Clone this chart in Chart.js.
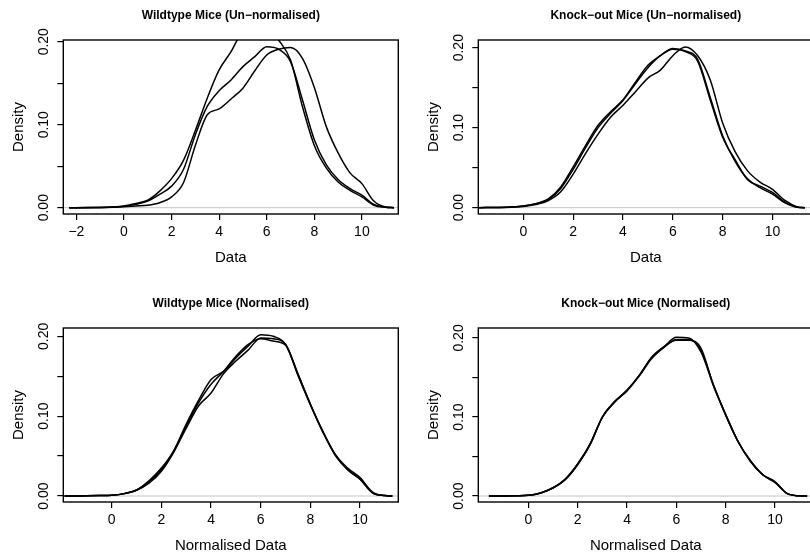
<!DOCTYPE html>
<html>
<head>
<meta charset="utf-8">
<script src="https://cdn.jsdelivr.net/npm/chart.js@4.4.1/dist/chart.umd.min.js"></script>
<style>
  html, body { margin: 0; padding: 0; background: #fff; }
  #wrap { position: relative; width: 810px; height: 556px; overflow: hidden; background: #fff; }
  #wrap canvas { position: absolute; }
</style>
</head>
<body>
<div id="wrap">
  <canvas id="wtRaw" width="405" height="278" style="left:0px;top:0px"></canvas>
  <canvas id="koRaw" width="405" height="278" style="left:415px;top:0px"></canvas>
  <canvas id="wtNorm" width="405" height="278" style="left:0px;top:288px"></canvas>
  <canvas id="koNorm" width="405" height="278" style="left:415px;top:288px"></canvas>
</div>
<script>
// Dichte-Kurven
const xsWtRaw = [-2.3, -1.5, -1, -0.5, 0, 0.5, 1, 1.5, 2, 2.5, 3, 3.5, 4, 4.5, 5, 5.5, 6, 6.5, 7, 7.5, 8, 8.5, 9, 9.5, 10, 10.5, 11, 11.35];
const wtRaw1 = [0, 0.0001, 0.0003, 0.0008, 0.0018, 0.004, 0.008, 0.016, 0.026, 0.046, 0.088, 0.122, 0.141, 0.154, 0.17, 0.182, 0.194, 0.191, 0.176, 0.13, 0.082, 0.052, 0.034, 0.023, 0.015, 0.004, 0.0005, 0];
const wtRaw2 = [0, 0.0001, 0.0003, 0.0008, 0.002, 0.005, 0.009, 0.02, 0.035, 0.057, 0.093, 0.132, 0.166, 0.188, 0.214, 0.224, 0.219, 0.202, 0.178, 0.122, 0.075, 0.048, 0.031, 0.021, 0.013, 0.003, 0.0005, 0];
const wtRaw3 = [0, 0, 0.0001, 0.0004, 0.001, 0.002, 0.003, 0.006, 0.013, 0.03, 0.075, 0.112, 0.119, 0.131, 0.144, 0.165, 0.184, 0.191, 0.193, 0.18, 0.145, 0.098, 0.066, 0.042, 0.029, 0.008, 0.0008, 0];

const xsKoRaw = [-2, -1.5, -1, -0.5, 0, 0.5, 1, 1.5, 2, 2.5, 3, 3.5, 4, 4.5, 5, 5.5, 6, 6.5, 7, 7.5, 8, 8.5, 9, 9.5, 10, 10.5, 11, 11.3];
const koRaw1 = [0, 0.0001, 0.0002, 0.0006, 0.0015, 0.004, 0.009, 0.02, 0.042, 0.068, 0.092, 0.113, 0.128, 0.145, 0.162, 0.172, 0.19, 0.201, 0.19, 0.16, 0.106, 0.07, 0.046, 0.032, 0.023, 0.009, 0.001, 0];
const koRaw2 = [0, 0.0001, 0.0003, 0.0008, 0.002, 0.005, 0.011, 0.026, 0.051, 0.078, 0.103, 0.12, 0.135, 0.157, 0.178, 0.19, 0.199, 0.195, 0.183, 0.135, 0.088, 0.06, 0.035, 0.027, 0.019, 0.007, 0.0005, 0];
const koRaw3 = [0, 0.0001, 0.0003, 0.0008, 0.002, 0.005, 0.01, 0.024, 0.048, 0.075, 0.1, 0.118, 0.134, 0.155, 0.175, 0.19, 0.198, 0.196, 0.185, 0.138, 0.09, 0.058, 0.036, 0.025, 0.017, 0.006, 0.0005, 0];

const xsWtNorm = [-1.9, -1.5, -1, -0.5, 0, 0.5, 1, 1.5, 2, 2.5, 3, 3.5, 4, 4.5, 5, 5.5, 6, 6.5, 7, 7.5, 8, 8.5, 9, 9.5, 10, 10.5, 11, 11.3];
const wtNorm1 = [0, 0.0001, 0.0002, 0.0005, 0.001, 0.003, 0.0075, 0.019, 0.035, 0.057, 0.09, 0.12, 0.146, 0.156, 0.173, 0.188, 0.202, 0.2, 0.19, 0.152, 0.115, 0.081, 0.052, 0.033, 0.021, 0.004, 0.0005, 0];
const wtNorm2 = [0, 0.0001, 0.0002, 0.0005, 0.001, 0.003, 0.007, 0.016, 0.031, 0.055, 0.085, 0.113, 0.129, 0.153, 0.169, 0.183, 0.198, 0.197, 0.19, 0.153, 0.115, 0.081, 0.052, 0.035, 0.023, 0.005, 0.0005, 0];
const wtNorm3 = [0, 0.0001, 0.0002, 0.0005, 0.001, 0.003, 0.0075, 0.018, 0.033, 0.056, 0.088, 0.117, 0.14, 0.156, 0.175, 0.19, 0.197, 0.194, 0.189, 0.151, 0.114, 0.08, 0.051, 0.033, 0.021, 0.004, 0.0005, 0];

const xsKoNorm = [-1.6, -1, -0.5, 0, 0.5, 1, 1.5, 2, 2.5, 3, 3.5, 4, 4.5, 5, 5.5, 6, 6.5, 7, 7.5, 8, 8.5, 9, 9.5, 10, 10.5, 11, 11.3];
const koNorm1 = [0, 0.0002, 0.0005, 0.001, 0.004, 0.0105, 0.021, 0.04, 0.065, 0.1, 0.119, 0.134, 0.153, 0.176, 0.189, 0.201, 0.2, 0.182, 0.14, 0.103, 0.069, 0.044, 0.027, 0.018, 0.003, 0.0003, 0];
const koNorm2 = [0, 0.0002, 0.0005, 0.001, 0.004, 0.01, 0.021, 0.04, 0.065, 0.1, 0.12, 0.134, 0.153, 0.175, 0.189, 0.197, 0.197, 0.187, 0.14, 0.103, 0.069, 0.044, 0.027, 0.018, 0.003, 0.0003, 0];
const koNorm3 = [0, 0.0002, 0.0005, 0.001, 0.004, 0.0105, 0.022, 0.041, 0.066, 0.1, 0.119, 0.133, 0.152, 0.174, 0.188, 0.198, 0.198, 0.184, 0.141, 0.102, 0.069, 0.045, 0.027, 0.017, 0.003, 0.0003, 0];

// Achsen
const xTicksWide = [-2, 0, 2, 4, 6, 8, 10];
const xTicks = [0, 2, 4, 6, 8, 10];
const yTicks = [0, 0.05, 0.1, 0.15, 0.2];
const yLabelled = [0, 0.1, 0.2];

const FONT = "'Liberation Sans', Arial, Helvetica, sans-serif";
const W = 405, H = 278;
const PLOT_LEFT = 63.3, PLOT_RIGHT = 398.3, PLOT_BOTTOM = 214;

// Rahmen und Null-Linie wie bei plot.density
const framePlugin = {
    id: 'frame',
    beforeDatasetsDraw(chart) {
        const { ctx, chartArea: a, scales: { y } } = chart;
        const y0 = y.getPixelForValue(0);
        ctx.save();
        ctx.strokeStyle = '#c4c4c4';
        ctx.lineWidth = 1;
        ctx.beginPath();
        ctx.moveTo(a.left, y0);
        ctx.lineTo(a.right, y0);
        ctx.stroke();
        ctx.restore();
    },
    afterDatasetsDraw(chart) {
        const { ctx, chartArea: a } = chart;
        ctx.save();
        ctx.strokeStyle = '#000';
        ctx.lineWidth = 1.4;
        ctx.strokeRect(a.left, a.top, a.right - a.left, a.bottom - a.top);
        ctx.restore();
    }
};

function fmtX(v) {
    return v < 0 ? '\u2212' + Math.abs(v) : String(v);
}

function makeChart(id, title, xTitle, xs, series, xRange, yRange, xTickList) {
    new Chart(document.getElementById(id), {
        type: 'line',
        data: {
            datasets: series.map(ys => ({
                data: xs.map((x, i) => ({ x: x, y: ys[i] })),
                borderColor: '#000',
                borderWidth: 1.5,
                pointRadius: 0,
                fill: false,
                cubicInterpolationMode: 'monotone',
                clip: 0
            }))
        },
        options: {
            responsive: false,
            animation: false,
            events: [],
            layout: { padding: { top: 0, left: 0, bottom: 0, right: W - PLOT_RIGHT } },
            plugins: {
                legend: { display: false },
                tooltip: { enabled: false },
                title: {
                    display: true,
                    text: title,
                    fullSize: false,
                    color: '#000',
                    font: { family: FONT, size: 12, weight: 'bold' },
                    padding: { top: 8.6, bottom: 17 }
                }
            },
            scales: {
                x: {
                    type: 'linear',
                    min: xRange[0],
                    max: xRange[1],
                    afterBuildTicks: s => { s.ticks = xTickList.map(v => ({ value: v })); },
                    afterFit: s => { s.height = H - PLOT_BOTTOM; },
                    grid: { drawOnChartArea: false, drawTicks: true, tickLength: 6, color: '#000', lineWidth: 1.2 },
                    border: { display: false },
                    ticks: {
                        autoSkip: false,
                        maxRotation: 0,
                        color: '#000',
                        padding: 3.5,
                        font: { family: FONT, size: 14 },
                        callback: v => fmtX(v)
                    },
                    title: {
                        display: true,
                        text: xTitle,
                        color: '#000',
                        font: { family: FONT, size: 15 },
                        padding: { top: 0, bottom: 11.5 }
                    }
                },
                y: {
                    type: 'linear',
                    min: yRange[0],
                    max: yRange[1],
                    afterBuildTicks: s => { s.ticks = yTicks.map(v => ({ value: v })); },
                    afterFit: s => { s.width = PLOT_LEFT; },
                    grid: { drawOnChartArea: false, drawTicks: true, tickLength: 6, color: '#000', lineWidth: 1.2 },
                    border: { display: false },
                    ticks: {
                        autoSkip: false,
                        minRotation: 90,
                        maxRotation: 90,
                        crossAlign: 'center',
                        color: '#000',
                        padding: 0,
                        font: { family: FONT, size: 14 },
                        callback: v => yLabelled.some(t => Math.abs(t - v) < 1e-9) ? v.toFixed(2) : ''
                    },
                    title: {
                        display: true,
                        text: 'Density',
                        color: '#000',
                        font: { family: FONT, size: 15 },
                        padding: { top: 10, bottom: 0 }
                    }
                }
            }
        },
        plugins: [framePlugin]
    });
}

makeChart('wtRaw', 'Wildtype Mice (Un\u2212normalised)', 'Data', xsWtRaw,
    [wtRaw1, wtRaw2, wtRaw3], [-2.55, 11.53], [-0.0076, 0.2021], xTicksWide);
makeChart('koRaw', 'Knock\u2212out Mice (Un\u2212normalised)', 'Data', xsKoRaw,
    [koRaw1, koRaw2, koRaw3], [-1.81, 11.64], [-0.0079, 0.2096], xTicks);
makeChart('wtNorm', 'Wildtype Mice (Normalised)', 'Normalised Data', xsWtNorm,
    [wtNorm1, wtNorm2, wtNorm3], [-1.95, 11.54], [-0.0075, 0.2104], xTicks);
makeChart('koNorm', 'Knock\u2212out Mice (Normalised)', 'Normalised Data', xsKoNorm,
    [koNorm1, koNorm2, koNorm3], [-2.03, 11.55], [-0.0075, 0.2126], xTicks);
</script>
</body>
</html>
